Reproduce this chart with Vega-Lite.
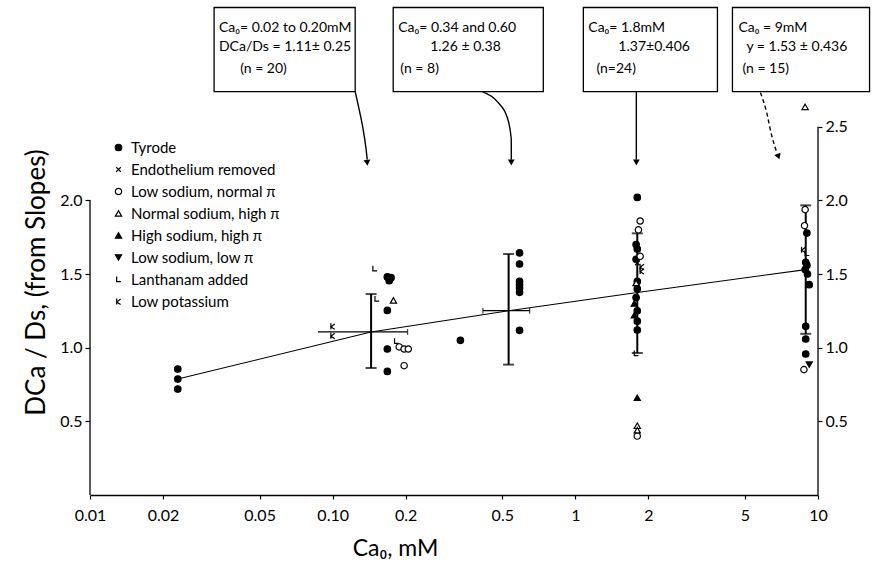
{
  "$schema": "https://vega.github.io/schema/vega-lite/v6.json",
  "width": 728,
  "height": 495,
  "autosize": {"type": "none"},
  "padding": {"left": 90, "top": 0, "right": 56, "bottom": 77},
  "background": "white",
  "config": {"view": {"stroke": null}, "font": "Lato", "axis": {"grid": false, "labelColor": "black", "tickColor": "black", "domainColor": "black", "titleColor": "black", "titleFontWeight": "normal"}},
  "datasets": {
    "pts": [
      {"c":0.023,"r":0.855,"g":"Tyrode"},
      {"c":0.023,"r":0.787,"g":"Tyrode"},
      {"c":0.023,"r":0.719,"g":"Tyrode"},
      {"c":0.1,"r":1.145,"g":"Low potassium"},
      {"c":0.1,"r":1.081,"g":"Low potassium"},
      {"c":0.149,"r":1.536,"g":"Lanthanam added"},
      {"c":0.152,"r":1.33,"g":"Lanthanam added"},
      {"c":0.183,"r":1.043,"g":"Lanthanam added"},
      {"c":0.168,"r":1.48,"g":"Tyrode"},
      {"c":0.174,"r":1.475,"g":"Tyrode"},
      {"c":0.171,"r":1.455,"g":"Tyrode"},
      {"c":0.168,"r":1.253,"g":"Tyrode"},
      {"c":0.168,"r":0.991,"g":"Tyrode"},
      {"c":0.168,"r":0.839,"g":"Tyrode"},
      {"c":0.178,"r":1.321,"g":"Normal sodium, high π"},
      {"c":0.188,"r":1.005,"g":"Low sodium, normal π"},
      {"c":0.197,"r":0.991,"g":"Low sodium, normal π"},
      {"c":0.205,"r":0.991,"g":"Low sodium, normal π"},
      {"c":0.197,"r":0.878,"g":"Low sodium, normal π"},
      {"c":0.336,"r":1.05,"g":"Tyrode"},
      {"c":0.589,"r":1.643,"g":"Tyrode"},
      {"c":0.589,"r":1.568,"g":"Tyrode"},
      {"c":0.589,"r":1.45,"g":"Tyrode"},
      {"c":0.589,"r":1.428,"g":"Tyrode"},
      {"c":0.589,"r":1.405,"g":"Tyrode"},
      {"c":0.589,"r":1.376,"g":"Tyrode"},
      {"c":0.589,"r":1.118,"g":"Tyrode"},
      {"c":1.8,"r":2.02,"g":"Tyrode"},
      {"c":1.78,"r":1.70,"g":"Tyrode"},
      {"c":1.8,"r":1.67,"g":"Tyrode"},
      {"c":1.78,"r":1.60,"g":"Tyrode"},
      {"c":1.8,"r":1.45,"g":"Tyrode"},
      {"c":1.8,"r":1.40,"g":"Tyrode"},
      {"c":1.78,"r":1.34,"g":"Tyrode"},
      {"c":1.8,"r":1.25,"g":"Tyrode"},
      {"c":1.8,"r":1.18,"g":"Tyrode"},
      {"c":1.8,"r":1.12,"g":"Tyrode"},
      {"c":1.85,"r":1.86,"g":"Low sodium, normal π"},
      {"c":1.82,"r":1.80,"g":"Low sodium, normal π"},
      {"c":1.85,"r":1.62,"g":"Low sodium, normal π"},
      {"c":1.8,"r":0.40,"g":"Low sodium, normal π"},
      {"c":1.78,"r":1.44,"g":"Normal sodium, high π"},
      {"c":1.8,"r":0.47,"g":"Normal sodium, high π"},
      {"c":1.8,"r":0.44,"g":"Normal sodium, high π"},
      {"c":1.75,"r":1.30,"g":"High sodium, high π"},
      {"c":1.75,"r":1.22,"g":"High sodium, high π"},
      {"c":1.8,"r":0.66,"g":"High sodium, high π"},
      {"c":1.88,"r":1.55,"g":"Low potassium"},
      {"c":1.88,"r":1.52,"g":"Low potassium"},
      {"c":1.8,"r":1.575,"g":"Endothelium removed"},
      {"c":1.78,"r":0.96,"g":"Lanthanam added"},
      {"c":8.85,"r":1.937,"g":"Low sodium, normal π"},
      {"c":8.8,"r":1.828,"g":"Low sodium, normal π"},
      {"c":8.75,"r":0.851,"g":"Low sodium, normal π"},
      {"c":9.0,"r":1.778,"g":"Tyrode"},
      {"c":8.9,"r":1.58,"g":"Tyrode"},
      {"c":9.0,"r":1.56,"g":"Tyrode"},
      {"c":8.85,"r":1.53,"g":"Tyrode"},
      {"c":9.05,"r":1.50,"g":"Tyrode"},
      {"c":9.2,"r":1.428,"g":"Tyrode"},
      {"c":8.9,"r":1.145,"g":"Tyrode"},
      {"c":8.9,"r":1.059,"g":"Tyrode"},
      {"c":8.9,"r":0.957,"g":"Tyrode"},
      {"c":8.7,"r":1.665,"g":"Low potassium"},
      {"c":9.0,"r":1.64,"g":"Lanthanam added"},
      {"c":9.2,"r":0.885,"g":"Low sodium, low π"},
      {"c":8.85,"r":2.635,"g":"Normal sodium, high π"}
    ],
    "err": [
      {"c":0.144,"lo":0.862,"hi":1.364},
      {"c":0.531,"lo":0.885,"hi":1.636},
      {"c":1.8,"lo":0.964,"hi":1.776},
      {"c":8.9,"lo":1.094,"hi":1.966}
    ],
    "caps": [
      {"c":0.144,"r":0.862},{"c":0.144,"r":1.364},
      {"c":0.531,"r":0.885},{"c":0.531,"r":1.636},
      {"c":1.8,"r":0.964},{"c":1.8,"r":1.776},
      {"c":8.9,"r":1.094},{"c":8.9,"r":1.966}
    ],
    "reg": [
      {"c":0.023,"r":0.787},
      {"c":0.144,"r":1.107},
      {"c":0.531,"r":1.251},
      {"c":1.8,"r":1.375},
      {"c":8.9,"r":1.53}
    ],
    "hbar": [
      {"c":0.087,"c2":0.2035,"r":1.107},
      {"c":0.416,"c2":0.648,"r":1.251}
    ],
    "hcaps": [
      {"c":0.2035,"r":1.107},
      {"c":0.416,"r":1.251},
      {"c":0.648,"r":1.251}
    ],
    "axlines": [
      {"c":0.01,"lo":0,"hi":2.0},
      {"c":10,"lo":0,"hi":2.5}
    ],
    "boxes": [
      {"c":0.03246,"c2":0.1238,"lo":2.738,"hi":3.309},
      {"c":0.1776,"c2":0.7379,"lo":2.738,"hi":3.309},
      {"c":1.079,"c2":3.851,"lo":2.738,"hi":3.309},
      {"c":4.441,"c2":16.31,"lo":2.738,"hi":3.309}
    ],
    "notes": [
      {"c":0.0340,"r":3.17,"t":"Ca₀= 0.02 to 0.20mM"},
      {"c":0.0340,"r":3.04,"t":"DCa/Ds = 1.11± 0.25"},
      {"c":0.04156,"r":2.895,"t":"(n = 20)"},
      {"c":0.1863,"r":3.17,"t":"Ca₀= 0.34 and 0.60"},
      {"c":0.2523,"r":3.04,"t":"1.26 ± 0.38"},
      {"c":0.19,"r":2.895,"t":"(n = 8)"},
      {"c":1.131,"r":3.17,"t":"Ca₀= 1.8mM"},
      {"c":1.504,"r":3.04,"t":"1.37±0.406"},
      {"c":1.221,"r":2.895,"t":"(n=24)"},
      {"c":4.70,"r":3.17,"t":"Ca₀ = 9mM"},
      {"c":5.07,"r":3.04,"t":"y = 1.53 ± 0.436"},
      {"c":4.88,"r":2.895,"t":"(n = 15)"}
    ],
    "arrows": [
      {"a":"a1","o":1,"c":0.1238,"r":2.738},
      {"a":"a1","o":2,"c":0.1286,"r":2.616},
      {"a":"a1","o":3,"c":0.1336,"r":2.480},
      {"a":"a1","o":4,"c":0.1374,"r":2.344},
      {"a":"a1","o":5,"c":0.1388,"r":2.276},
      {"a":"a2","o":1,"c":0.4135,"r":2.738},
      {"a":"a2","o":2,"c":0.4770,"r":2.670},
      {"a":"a2","o":3,"c":0.5244,"r":2.562},
      {"a":"a2","o":4,"c":0.5446,"r":2.413},
      {"a":"a2","o":5,"c":0.5446,"r":2.276},
      {"a":"a3","o":1,"c":1.784,"r":2.738},
      {"a":"a3","o":2,"c":1.784,"r":2.276}
    ],
    "arrow4": [
      {"a":"a4","o":1,"c":5.792,"r":2.731},
      {"a":"a4","o":2,"c":6.133,"r":2.602},
      {"a":"a4","o":3,"c":6.431,"r":2.446},
      {"a":"a4","o":4,"c":6.745,"r":2.331}
    ],
    "heads": [
      {"c":0.1388,"r":2.255,"ang":-5},
      {"c":0.5446,"r":2.257,"ang":0},
      {"c":1.784,"r":2.257,"ang":0},
      {"c":6.87,"r":2.297,"ang":-20}
    ]
  },
  "encoding": {
    "x": {
      "field": "c",
      "type": "quantitative",
      "scale": {"type": "log", "domain": [0.01, 10], "nice": false},
      "axis": {
        "values": [0.01, 0.02, 0.05, 0.1, 0.2, 0.5, 1, 2, 5, 10],
        "labelExpr": "datum.value == 0.01 ? '0.01' : datum.value == 0.02 ? '0.02' : datum.value == 0.05 ? '0.05' : datum.value == 0.1 ? '0.10' : datum.value == 0.2 ? '0.2' : datum.value == 0.5 ? '0.5' : datum.value == 1 ? '1' : datum.value == 2 ? '2' : datum.value == 5 ? '5' : '10'",
        "labelFontSize": 16,
        "labelPadding": 8,
        "labelFlush": false,
        "labelOverlap": false,
        "tickSize": 4,
        "tickWidth": 1.2,
        "domainWidth": 1.3,
        "title": "Ca₀, mM",
        "titleFontSize": 23,
        "titleX": 305,
        "titleY": 53,
        "titleAnchor": "middle",
        "titleAlign": "center",
        "titleBaseline": "middle"
      }
    }
  },
  "layer": [
    {
      "data": {"name": "axlines"},
      "mark": {"type": "rule", "color": "black", "strokeWidth": 1.3},
      "encoding": {
        "y": {
          "field": "lo", "type": "quantitative",
          "scale": {"domain": [0, 3.36], "nice": false, "zero": false},
          "axis": {
            "orient": "left",
            "values": [0.5, 1, 1.5, 2],
            "format": ".1f",
            "domain": false,
            "tickSize": 5,
            "tickWidth": 1.2,
            "labelFontSize": 16,
            "labelPadding": 3,
            "title": "DCa / Ds, (from Slopes)",
            "titleFontSize": 26,
            "titleAngle": 270,
            "titleX": -54,
            "titleY": 282,
            "titleAlign": "center",
            "titleBaseline": "middle"
          }
        },
        "y2": {"field": "hi"}
      }
    },
    {
      "data": {"name": "err"},
      "mark": {"type": "rule", "color": "black", "strokeWidth": 2},
      "encoding": {
        "y": {
          "field": "lo", "type": "quantitative",
          "scale": {"domain": [0, 3.36], "nice": false, "zero": false},
          "axis": {
            "orient": "right",
            "values": [0.5, 1, 1.5, 2, 2.5],
            "format": ".1f",
            "domain": false,
            "tickSize": 4,
            "tickWidth": 1.2,
            "labelFontSize": 16,
            "labelPadding": 3,
            "title": null
          }
        },
        "y2": {"field": "hi"}
      }
    },
    {
      "data": {"name": "reg"},
      "mark": {"type": "line", "color": "black", "strokeWidth": 1.1},
      "encoding": {
        "y": {"field": "r", "type": "quantitative", "scale": {"domain": [0, 3.36], "nice": false, "zero": false}, "axis": null}
      }
    },
    {
      "data": {"name": "caps"},
      "mark": {"type": "tick", "orient": "horizontal", "color": "black", "size": 11, "thickness": 2},
      "encoding": {
        "y": {"field": "r", "type": "quantitative", "scale": {"domain": [0, 3.36], "nice": false, "zero": false}, "axis": null}
      }
    },
    {
      "data": {"name": "hbar"},
      "mark": {"type": "rule", "color": "black", "strokeWidth": 1.3},
      "encoding": {
        "x2": {"field": "c2"},
        "y": {"field": "r", "type": "quantitative", "scale": {"domain": [0, 3.36], "nice": false, "zero": false}, "axis": null}
      }
    },
    {
      "data": {"name": "hcaps"},
      "mark": {"type": "tick", "orient": "vertical", "color": "black", "size": 6, "thickness": 1.3},
      "encoding": {
        "y": {"field": "r", "type": "quantitative", "scale": {"domain": [0, 3.36], "nice": false, "zero": false}, "axis": null}
      }
    },
    {
      "data": {"name": "pts"},
      "mark": {"type": "point", "stroke": "black", "strokeWidth": 1.2, "opacity": 1, "fillOpacity": 1, "strokeOpacity": 1},
      "encoding": {
        "y": {"field": "r", "type": "quantitative", "scale": {"domain": [0, 3.36], "nice": false, "zero": false}, "axis": null},
        "shape": {
          "field": "g", "type": "nominal",
          "scale": {
            "domain": ["Tyrode", "Endothelium removed", "Low sodium, normal π", "Normal sodium, high π", "High sodium, high π", "Low sodium, low π", "Lanthanam added", "Low potassium"],
            "range": ["circle", "M-0.7,-0.7L0.7,0.7M-0.7,0.7L0.7,-0.7", "circle", "triangle-up", "triangle-up", "triangle-down", "M-0.6,-1L-0.6,0.7L0.8,0.7", "M-0.6,-1L-0.6,1M0.7,-0.8L-0.6,0.2L0.7,1"]
          },
          "legend": {
            "orient": "none",
            "legendX": 21,
            "legendY": 140,
            "title": null,
            "padding": 0,
            "labelFontSize": 15,
            "labelColor": "black",
            "labelOffset": 5,
            "rowPadding": 6,
            "symbolStrokeColor": "black",
            "symbolStrokeWidth": 1.2,
            "symbolOpacity": 1
          }
        },
        "fill": {
          "field": "g", "type": "nominal",
          "scale": {
            "domain": ["Tyrode", "Endothelium removed", "Low sodium, normal π", "Normal sodium, high π", "High sodium, high π", "Low sodium, low π", "Lanthanam added", "Low potassium"],
            "range": ["black", "transparent", "white", "white", "black", "black", "transparent", "transparent"]
          }
        },
        "size": {
          "field": "g", "type": "nominal",
          "scale": {
            "domain": ["Tyrode", "Endothelium removed", "Low sodium, normal π", "Normal sodium, high π", "High sodium, high π", "Low sodium, low π", "Lanthanam added", "Low potassium"],
            "range": [42, 36, 45, 75, 75, 75, 50, 50]
          }
        }
      }
    },
    {
      "data": {"name": "boxes"},
      "mark": {"type": "rect", "fill": null, "stroke": "black", "strokeWidth": 1.3, "clip": false},
      "encoding": {
        "x2": {"field": "c2"},
        "y": {"field": "lo", "type": "quantitative", "scale": {"domain": [0, 3.36], "nice": false, "zero": false}, "axis": null},
        "y2": {"field": "hi"}
      }
    },
    {
      "data": {"name": "notes"},
      "mark": {"type": "text", "align": "left", "baseline": "middle", "fontSize": 14, "color": "black", "font": "Lato"},
      "encoding": {
        "y": {"field": "r", "type": "quantitative", "scale": {"domain": [0, 3.36], "nice": false, "zero": false}, "axis": null},
        "text": {"field": "t"}
      }
    },
    {
      "data": {"name": "arrows"},
      "mark": {"type": "line", "color": "black", "strokeWidth": 1.4, "interpolate": "monotone"},
      "encoding": {
        "y": {"field": "r", "type": "quantitative", "scale": {"domain": [0, 3.36], "nice": false, "zero": false}, "axis": null},
        "detail": {"field": "a"},
        "order": {"field": "o"}
      }
    },
    {
      "data": {"name": "arrow4"},
      "mark": {"type": "line", "color": "black", "strokeWidth": 1.4, "strokeDash": [4, 3], "interpolate": "monotone"},
      "encoding": {
        "y": {"field": "r", "type": "quantitative", "scale": {"domain": [0, 3.36], "nice": false, "zero": false}, "axis": null},
        "order": {"field": "o"}
      }
    },
    {
      "data": {"name": "heads"},
      "mark": {"type": "point", "shape": "triangle-down", "filled": true, "color": "black", "size": 45, "opacity": 1},
      "encoding": {
        "y": {"field": "r", "type": "quantitative", "scale": {"domain": [0, 3.36], "nice": false, "zero": false}, "axis": null},
        "angle": {"field": "ang", "type": "quantitative", "scale": null}
      }
    }
  ],
  "resolve": {"axis": {"y": "independent"}}
}
